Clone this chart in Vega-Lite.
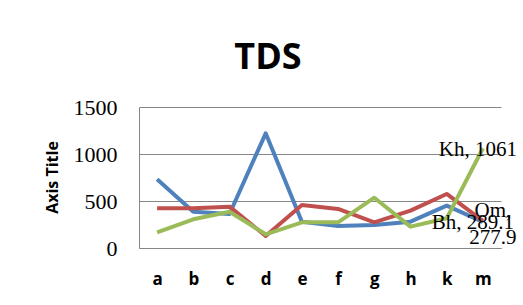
{
  "$schema": "https://vega.github.io/schema/vega-lite/v6.json",
  "width": 362,
  "height": 141,
  "autosize": {"type": "none"},
  "padding": {"left": 139, "top": 107, "right": 22, "bottom": 57},
  "background": "white",
  "config": {"view": {"stroke": null}},
  "title": {
    "text": "TDS",
    "font": "Open Sans",
    "fontWeight": "bold",
    "fontSize": 36,
    "color": "black",
    "anchor": "middle",
    "dx": -52,
    "offset": -9,
    "baseline": "alphabetic"
  },
  "data": {
    "values": [
      {"cat": "a", "series": "Om", "value": 731},
      {"cat": "b", "series": "Om", "value": 386},
      {"cat": "c", "series": "Om", "value": 362},
      {"cat": "d", "series": "Om", "value": 1220},
      {"cat": "e", "series": "Om", "value": 280},
      {"cat": "f", "series": "Om", "value": 234},
      {"cat": "g", "series": "Om", "value": 245},
      {"cat": "h", "series": "Om", "value": 280},
      {"cat": "k", "series": "Om", "value": 450},
      {"cat": "m", "series": "Om", "value": 277.9},
      {"cat": "a", "series": "Bh", "value": 422},
      {"cat": "b", "series": "Bh", "value": 422},
      {"cat": "c", "series": "Bh", "value": 440},
      {"cat": "d", "series": "Bh", "value": 128},
      {"cat": "e", "series": "Bh", "value": 457},
      {"cat": "f", "series": "Bh", "value": 415},
      {"cat": "g", "series": "Bh", "value": 273},
      {"cat": "h", "series": "Bh", "value": 397},
      {"cat": "k", "series": "Bh", "value": 575},
      {"cat": "m", "series": "Bh", "value": 289.1},
      {"cat": "a", "series": "Kh", "value": 167},
      {"cat": "b", "series": "Kh", "value": 305},
      {"cat": "c", "series": "Kh", "value": 386},
      {"cat": "d", "series": "Kh", "value": 146},
      {"cat": "e", "series": "Kh", "value": 273},
      {"cat": "f", "series": "Kh", "value": 273},
      {"cat": "g", "series": "Kh", "value": 535},
      {"cat": "h", "series": "Kh", "value": 227},
      {"cat": "k", "series": "Kh", "value": 316},
      {"cat": "m", "series": "Kh", "value": 1061}
    ]
  },
  "encoding": {
    "x": {
      "field": "cat",
      "type": "nominal",
      "sort": null,
      "scale": {"type": "point", "padding": 0.5},
      "axis": {
        "title": null,
        "labelAngle": 0,
        "ticks": false,
        "domainColor": "#868686",
        "domainWidth": 1,
        "labelFont": "Open Sans",
        "labelFontWeight": "bold",
        "labelFontSize": 17,
        "labelColor": "black",
        "labelPadding": 23
      }
    },
    "y": {
      "field": "value",
      "type": "quantitative",
      "scale": {"domain": [0, 1500], "nice": false},
      "axis": {
        "title": "Axis Title",
        "titleFont": "Open Sans",
        "titleFontWeight": "bold",
        "titleFontSize": 16,
        "titleColor": "black",
        "titleX": -87,
        "titleY": 70,
        "titleAlign": "center",
        "titleBaseline": "middle",
        "values": [0, 500, 1000, 1500],
        "format": "d",
        "ticks": false,
        "domainColor": "#868686",
        "gridColor": "#868686",
        "gridWidth": 1,
        "labelFont": "Liberation Serif",
        "labelFontSize": 22,
        "labelColor": "black",
        "labelPadding": 22
      }
    }
  },
  "layer": [
    {
      "mark": {"type": "line", "strokeWidth": 4, "strokeJoin": "round"},
      "encoding": {
        "color": {
          "field": "series",
          "type": "nominal",
          "scale": {"domain": ["Om", "Bh", "Kh"], "range": ["#4F81BD", "#C0504D", "#9BBB59"]},
          "legend": null
        }
      }
    },
    {
      "transform": [{"filter": "datum.cat === 'm' && datum.series === 'Kh'"}],
      "mark": {"type": "text", "font": "Liberation Serif", "fontSize": 21, "color": "black", "dx": -5, "dy": 2, "align": "center", "baseline": "middle"},
      "encoding": {"text": {"value": "Kh, 1061"}}
    },
    {
      "transform": [{"filter": "datum.cat === 'm' && datum.series === 'Bh'"}],
      "mark": {"type": "text", "font": "Liberation Serif", "fontSize": 21, "color": "black", "dx": -10, "dy": 2, "align": "center", "baseline": "middle"},
      "encoding": {"text": {"value": "Bh, 289.1"}}
    },
    {
      "transform": [{"filter": "datum.cat === 'm' && datum.series === 'Om'"}],
      "mark": {"type": "text", "font": "Liberation Serif", "fontSize": 21, "color": "black", "dx": 10, "dy": -11, "align": "center", "baseline": "middle", "lineHeight": 27},
      "encoding": {"text": {"value": ["Om,", "277.9"]}}
    }
  ]
}
